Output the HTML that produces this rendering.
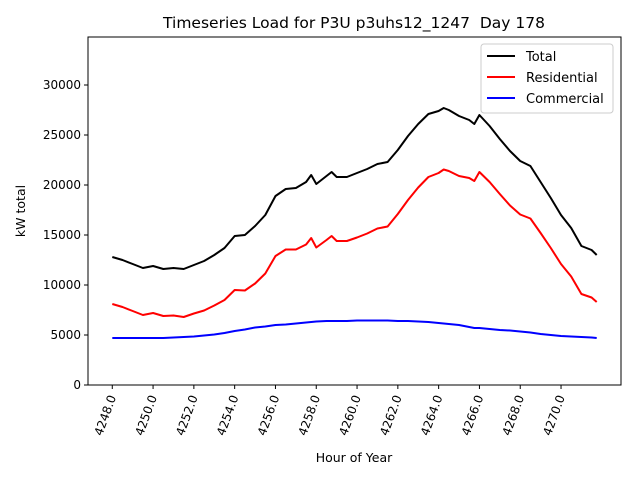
<!DOCTYPE html>
<html><head><meta charset="utf-8"><style>
body{margin:0;background:#fff;}
svg{display:block;font-family:"DejaVu Sans","Liberation Sans",sans-serif;}
</style></head><body>
<svg id="chart" width="640" height="480" viewBox="0 0 640 480">
<rect width="640" height="480" fill="#fff"/>
<text x="354" y="28" font-size="15.5" text-anchor="middle" xml:space="preserve" style="white-space:pre">Timeseries Load for P3U p3uhs12_1247&#160; Day 178</text>
<g id="plot"></g>
<text x="354" y="462" font-size="12.5" text-anchor="middle">Hour of Year</text>
<text transform="translate(25,211) rotate(-90)" font-size="12.5" text-anchor="middle">kW total</text>
<g>
<rect x="481" y="44" width="132" height="69" fill="#fff" stroke="#ccc" rx="3"/>
<line x1="487" y1="56" x2="515" y2="56" stroke="#000" stroke-width="2"/>
<text x="526" y="61" font-size="13">Total</text>
<line x1="487" y1="77" x2="515" y2="77" stroke="#f00" stroke-width="2"/>
<text x="526" y="82" font-size="13">Residential</text>
<line x1="487" y1="98" x2="515" y2="98" stroke="#00f" stroke-width="2"/>
<text x="526" y="103" font-size="13">Commercial</text>
</g>
</svg>
<script>
const hours=[4248,4248.5,4249,4249.5,4250,4250.5,4251,4251.5,4252,4252.5,4253,4253.5,4254,4254.5,4255,4255.5,4256,4256.5,4257,4257.5,4257.75,4258,4258.5,4258.75,4259,4259.5,4260,4260.5,4261,4261.5,4262,4262.5,4263,4263.5,4264,4264.25,4264.5,4265,4265.5,4265.75,4266,4266.5,4267,4267.5,4268,4268.5,4269,4269.5,4270,4270.5,4271,4271.5,4271.75];
const total=[12800,12500,12100,11700,11900,11600,11700,11600,12000,12400,13000,13700,14900,15000,15900,17000,18900,19600,19700,20300,21000,20100,20900,21300,20800,20800,21200,21600,22100,22300,23500,24900,26100,27100,27400,27700,27500,26900,26500,26100,27000,25900,24600,23400,22400,21900,20300,18700,17000,15700,13900,13500,13000];
const residential=[8100,7800,7400,7000,7200,6900,6950,6800,7150,7450,7950,8500,9500,9450,10150,11150,12900,13550,13550,14050,14700,13750,14500,14900,14400,14400,14750,15150,15650,15850,17100,18500,19750,20800,21200,21550,21400,20900,20700,20400,21300,20300,19100,17950,17050,16650,15200,13700,12100,10850,9100,8750,8300];
const commercial=[4700,4700,4700,4700,4700,4700,4750,4800,4850,4950,5050,5200,5400,5550,5750,5850,6000,6050,6150,6250,6300,6350,6400,6400,6400,6400,6450,6450,6450,6450,6400,6400,6350,6300,6200,6150,6100,6000,5800,5700,5700,5600,5500,5450,5350,5250,5100,5000,4900,4850,4800,4750,4700];
const xTicks=[4248,4250,4252,4254,4256,4258,4260,4262,4264,4266,4268,4270];
const yTicks=[0,5000,10000,15000,20000,25000,30000];
const NS="http://www.w3.org/2000/svg";
const L=88,R=621,T=37,B=385;
const x0=4246.81,x1=4272.94,yMax=34800;
const X=h=>L+(h-x0)/(x1-x0)*(R-L);
const Y=v=>B-v/yMax*(B-T);
const g=document.getElementById('plot');
function mk(tag,attrs){const e=document.createElementNS(NS,tag);for(const k in attrs)e.setAttribute(k,attrs[k]);g.appendChild(e);return e;}
function series(data,color,name){
  const p=mk('polyline',{points:data.map((v,i)=>X(hours[i]).toFixed(1)+','+Y(v).toFixed(1)).join(' '),fill:'none',stroke:color,'stroke-width':2,'stroke-linejoin':'round'});
  
  
}
series(total,'#000','total-line');
series(residential,'#f00','residential-line');
series(commercial,'#00f','commercial-line');
const frame=mk('rect',{x:L,y:T,width:R-L,height:B-T,fill:'none',stroke:'#000','stroke-width':1});


yTicks.forEach(v=>{
  mk('line',{x1:L-4,x2:L,y1:Y(v),y2:Y(v),stroke:'#000'});
  const t=mk('text',{x:L-7,y:Y(v)+4,'font-size':'12','text-anchor':'end'});
  t.textContent=v;
  
  
});
xTicks.forEach(h=>{
  const x=X(h);
  mk('line',{x1:x,x2:x,y1:B,y2:B+4,stroke:'#000'});
  const t=mk('text',{transform:`translate(${x+4},${B+12}) rotate(-70)`,'font-size':'12','text-anchor':'end'});
  t.textContent=h.toFixed(1);
  
  
});
</script>
</body></html>
